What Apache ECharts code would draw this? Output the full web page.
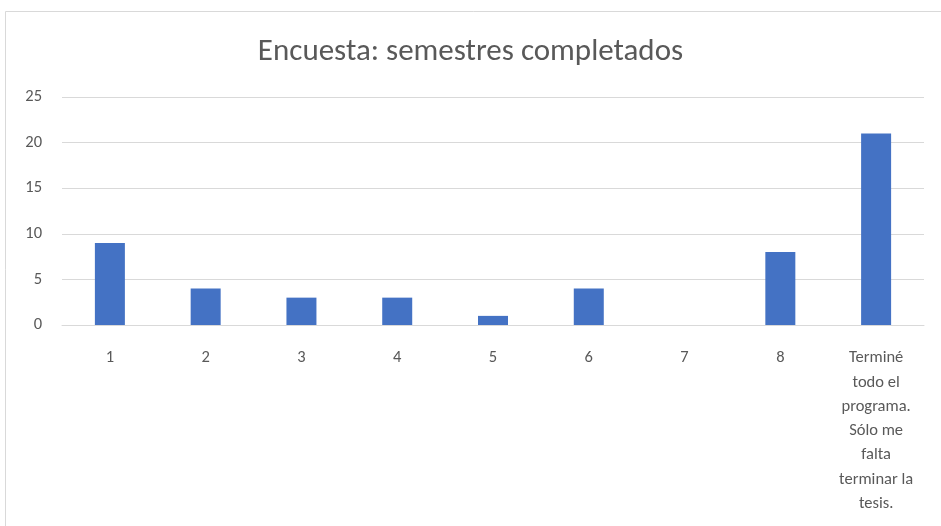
<!DOCTYPE html>
<html>
<head>
<meta charset="utf-8">
<script src="https://cdn.jsdelivr.net/npm/echarts@6/dist/echarts.min.js"></script>
<style>
  html, body { margin: 0; padding: 0; background: #fff; }
  #container1 { width: 941px; height: 526px; }
</style>
</head>
<body>
<div id="container1"></div>
<script>
var categories = ['1', '2', '3', '4', '5', '6', '7', '8',
	'Terminé\ntodo el\nprograma.\nSólo me\nfalta\nterminar la\ntesis.'];
var values = [9, 4, 3, 3, 1, 4, 0, 8, 21];
var yTicks = [0, 5, 10, 15, 20, 25];

var font = 'Calibri, Carlito, Lato, sans-serif';
var dom = document.getElementById('container1');
var myChart = echarts.init(dom, null, { renderer: 'canvas' });

myChart.setOption({
	backgroundColor: '#fff',
	animation: false,
	graphic: [{
		type: 'rect',
		shape: { x: 5.5, y: 11.5, width: 960, height: 540 },
		style: { fill: 'none', stroke: '#d9d9d9', lineWidth: 1 },
		silent: true
	}],
	title: {
		text: 'Encuesta: semestres completados',
		left: 'center',
		top: 32,
		textStyle: {
			fontFamily: font,
			fontSize: 31,
			fontWeight: 'normal',
			color: '#595959'
		}
	},
	grid: {
		left: 62,
		right: 17,
		top: 97,
		height: 228,
		containLabel: false
	},
	xAxis: {
		type: 'category',
		data: categories,
		axisLine: { lineStyle: { color: '#d9d9d9', width: 1 } },
		axisTick: { show: false },
		axisLabel: {
			interval: 0,
			margin: 21,
			fontFamily: font,
			fontSize: 16.5,
			color: '#595959',
			lineHeight: 24.3
		}
	},
	yAxis: {
		type: 'value',
		min: yTicks[0],
		max: yTicks[yTicks.length - 1],
		interval: 5,
		axisLine: { show: false },
		axisTick: { show: false },
		splitLine: { lineStyle: { color: '#d9d9d9', width: 1 } },
		axisLabel: {
			margin: 20,
			fontFamily: font,
			fontSize: 16.5,
			color: '#595959'
		}
	},
	series: [{
		type: 'bar',
		data: values,
		barWidth: 30,
		itemStyle: { color: '#4472c4' }
	}]
});
</script>
</body>
</html>
